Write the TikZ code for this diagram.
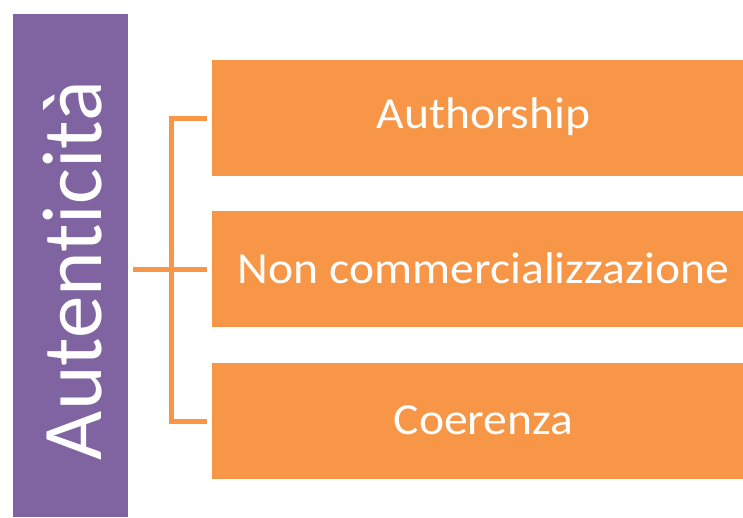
\documentclass[tikz,border=0pt]{standalone}
\usepackage{fontspec}
\setmainfont[Ligatures=CommonOff]{Carlito}
\usepackage{tikz}
\usetikzlibrary{calc}

\definecolor{viola}{HTML}{8064A2}
\definecolor{arancio}{HTML}{F79646}

\begin{document}
\begin{tikzpicture}[x=1pt,y=-1pt]
\tikzstyle{title}=[fill=viola,draw=none,text=white,inner sep=0pt,outer sep=0pt,anchor=north west,minimum width=115pt,minimum height=503pt]
\tikzstyle{item}=[fill=arancio,draw=none,text=white,inner sep=0pt,outer sep=0pt,anchor=north west,minimum width=543pt,minimum height=116pt]
\tikzstyle{label}=[text=white,inner sep=0pt,font=\fontsize{44.5}{53}\selectfont,xscale=1.07]
\tikzstyle{bracket}=[draw=arancio,line width=5pt,line join=miter]

% PAGE
\clip (0,0) rectangle (743,517);

% TITLE BAR
\node (A) [title] at (13,14) {};
\node (At) [rotate=90,text=white,inner sep=0pt,font=\fontsize{85}{100}\selectfont] at ($(A.center)+(2,5)$) {Autenticità};

% ITEMS
\node (B1) [item] at (212,60) {};
\node (B2) [item] at (212,211) {};
\node (B3) [item] at (212,363) {};
\node [label] at ($(B1.center)+(0,-1)$) {Authorship};
\node [label] at ($(B2.center)+(0,-1)$) {Non commercializzazione};
\node [label] at ($(B3.center)+(0,-1)$) {Coerenza};

% BRACKET
\coordinate (J) at (171,269);
\draw [bracket,shorten <=5pt,shorten >=5pt] (B1.west) -| (J) |- (B3.west);
\draw [bracket,shorten <=5pt,shorten >=5pt] (A.east |- J) -- (B2.west);

\end{tikzpicture}
\end{document}
